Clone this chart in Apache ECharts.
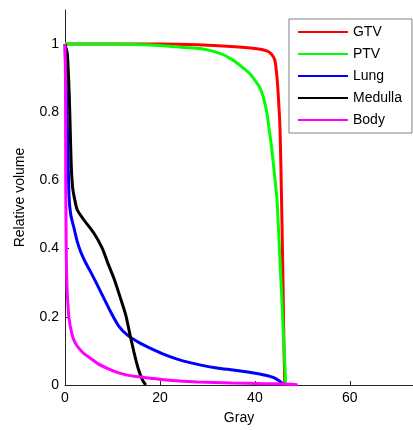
<!DOCTYPE html>
<html>
<head>
<meta charset="utf-8">
<script src="https://cdn.jsdelivr.net/npm/echarts@6/dist/echarts.min.js"></script>
<style>
  html, body { margin: 0; padding: 0; background: #fff; }
  #chart { width: 413px; height: 430px; }
</style>
</head>
<body>
<div id="chart"></div>
<script>
// Dose-volume histograms: [dose (Gy), relative volume]
const gtv = [[0,1],[20,1],[28,0.998],[35,0.993],[40,0.987],[42.5,0.98],[43.5,0.97],[44.2,0.953],[44.6,0.91],[44.9,0.855],[45.3,0.748],[45.6,0.552],[45.8,0.4],[45.96,0.259],[46.1,0.13],[46.3,0.005],[46.5,0]];
const ptv = [[0,1],[10,1],[18,0.997],[22,0.994],[25,0.99],[28.4,0.987],[32.6,0.973],[35.4,0.953],[37.5,0.93],[38.9,0.914],[40.2,0.89],[41.05,0.872],[41.75,0.845],[42.5,0.8],[43,0.75],[43.5,0.699],[44.1,0.62],[44.6,0.552],[45,0.45],[45.3,0.357],[45.65,0.26],[45.96,0.161],[46.3,0.06],[46.5,0]];
const lung = [[0,1],[0.2,0.9],[0.4,0.8],[0.6,0.7],[0.84,0.557],[1.2,0.5],[1.9,0.46],[2.6,0.42],[3.3,0.391],[4.3,0.36],[5.4,0.332],[7.5,0.274],[9.6,0.215],[11.4,0.171],[13.1,0.147],[15.9,0.122],[18.7,0.103],[22.1,0.083],[25,0.07],[28.4,0.059],[32,0.05],[35.4,0.044],[38.5,0.038],[41,0.032],[43,0.026],[44.5,0.018],[45.6,0.007],[46.2,0]];
const medulla = [[0,1],[0.5,0.97],[0.9,0.85],[1.1,0.75],[1.3,0.65],[1.6,0.58],[2.1,0.54],[2.6,0.513],[4,0.484],[6.1,0.445],[7.86,0.401],[8.9,0.362],[10.3,0.313],[11.7,0.254],[12.8,0.205],[13.7,0.147],[14.5,0.098],[15.4,0.049],[16.3,0.015],[17,0]];
const bodyDvh = [[0,1],[0.1,0.9],[0.15,0.6],[0.25,0.4],[0.35,0.32],[0.5,0.264],[0.84,0.196],[1.5,0.147],[2.1,0.125],[2.9,0.108],[4,0.092],[5.4,0.078],[7,0.062],[8.9,0.049],[11,0.037],[13.1,0.029],[15.5,0.024],[18,0.02],[22,0.014],[28,0.009],[35,0.006],[42,0.004],[46,0.003],[48,0.002],[49,0]];

const seriesNames = ['GTV', 'PTV', 'Lung', 'Medulla', 'Body'];
const seriesData = [gtv, ptv, lung, medulla, bodyDvh];
const seriesColors = ['#ff0000', '#00ff00', '#0000ff', '#000000', '#ff00ff'];

const xTicks = [0, 20, 40, 60];
const yTicks = [0, 0.2, 0.4, 0.6, 0.8, 1];

const font = 'Liberation Sans, Arial, sans-serif';
const chart = echarts.init(document.getElementById('chart'), null, { renderer: 'canvas' });

chart.setOption({
  animation: false,
  backgroundColor: '#fff',
  grid: { left: 65, right: 0, top: 10, bottom: 45, containLabel: false, outerBoundsMode: 'none' },
  legend: {
    orient: 'vertical',
    right: 1,
    top: 19,
    data: seriesNames,
    itemWidth: 50,
    itemHeight: 14,
    itemGap: 8,
    padding: [6, 10, 6, 8],
    borderColor: '#808080',
    borderWidth: 1,
    backgroundColor: '#fff',
    itemStyle: { opacity: 0 },
    textStyle: { fontFamily: font, fontSize: 14, color: '#000', padding: [0, 0, 0, 0] }
  },
  xAxis: {
    type: 'value',
    min: 0,
    max: 73.3,
    interval: 20,
    name: 'Gray',
    nameLocation: 'middle',
    nameGap: 26,
    nameTextStyle: { fontFamily: font, fontSize: 14, color: '#000' },
    axisLine: { lineStyle: { color: '#262626', width: 1 } },
    axisTick: { inside: true, length: 4, customValues: xTicks, lineStyle: { color: '#262626' } },
    axisLabel: { customValues: xTicks, fontFamily: font, fontSize: 14, color: '#000', margin: 6 },
    splitLine: { show: false }
  },
  yAxis: {
    type: 'value',
    min: 0,
    max: 1.1,
    interval: 0.2,
    name: 'Relative volume',
    nameLocation: 'middle',
    nameGap: 38,
    nameRotate: 90,
    nameTextStyle: { fontFamily: font, fontSize: 14, color: '#000' },
    axisLine: { show: true, lineStyle: { color: '#262626', width: 1 } },
    axisTick: { show: true, inside: true, length: 4, customValues: yTicks, lineStyle: { color: '#262626' } },
    axisLabel: { customValues: yTicks, fontFamily: font, fontSize: 14, color: '#000', margin: 6,
      formatter: v => String(Math.round(v * 10) / 10) },
    splitLine: { show: false }
  },
  series: seriesNames.map((name, i) => ({
    name,
    type: 'line',
    data: seriesData[i],
    symbol: 'none',
    smooth: 0.2,
    clip: true,
    lineStyle: { color: seriesColors[i], width: 3 },
    itemStyle: { color: seriesColors[i] }
  }))
});
</script>
</body>
</html>
